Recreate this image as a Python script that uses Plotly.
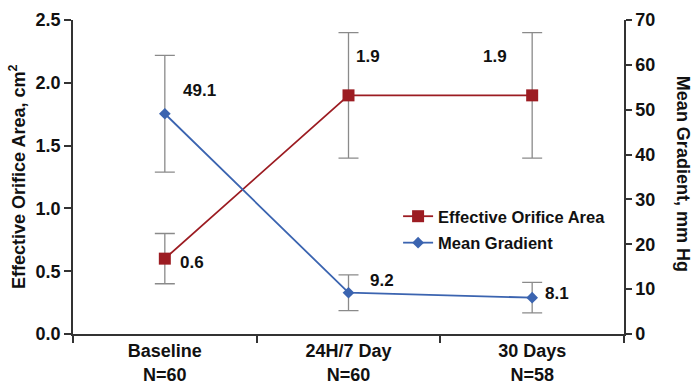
import plotly.graph_objects as go

categories = ["Baseline<br>N=60", "24H/7 Day<br>N=60", "30 Days<br>N=58"]
eoa = [0.6, 1.9, 1.9]
eoa_err = [0.2, 0.5, 0.5]
gradient = [49.1, 9.2, 8.1]
gradient_err = [13.0, 4.0, 3.4]
eoa_labels = ["0.6", "1.9", "1.9"]
gradient_labels = ["49.1", "9.2", "8.1"]
eoa_ticks = [0, 0.5, 1.0, 1.5, 2.0, 2.5]
grad_ticks = [0, 10, 20, 30, 40, 50, 60, 70]

RED = "#9C1C22"
BLUE = "#3B64B0"
GRAY = "#8A8A8A"
AXIS = "#333333"
FONT = "Liberation Sans, Arial, sans-serif"

def bold(s):
    return "<b>" + s.replace("<br>", "</b><br><b>") + "</b>"

fig = go.Figure()
fig.add_trace(go.Scatter(
    x=categories, y=eoa, name=bold("Effective Orifice Area"),
    mode="lines+markers", legendgroup="a",
    line=dict(color=RED, width=1.8),
    marker=dict(symbol="square", size=12, color=RED),
    error_y=dict(type="data", array=eoa_err, color=GRAY, thickness=1.3, width=10),
    yaxis="y",
))
fig.add_trace(go.Scatter(
    x=categories, y=gradient, name=bold("Mean Gradient"),
    mode="lines+markers", legendgroup="b",
    line=dict(color=BLUE, width=1.8),
    marker=dict(symbol="diamond", size=9, color=BLUE),
    error_y=dict(type="data", array=gradient_err, color=GRAY, thickness=1.3, width=10),
    yaxis="y2",
))

eoa_shifts = [(27, -4), (19, 39), (-37, 39)]
grad_shifts = [(35, 23), (33, 12), (25, 4)]
for c, v, t, (dx, dy) in zip(categories, eoa, eoa_labels, eoa_shifts):
    fig.add_annotation(x=c, y=v, xref="x", yref="y", text=bold(t), showarrow=False,
                       xshift=dx, yshift=dy, font=dict(size=17, color="#111", family=FONT))
for c, v, t, (dx, dy) in zip(categories, gradient, gradient_labels, grad_shifts):
    fig.add_annotation(x=c, y=v, xref="x", yref="y2", text=bold(t), showarrow=False,
                       xshift=dx, yshift=dy, font=dict(size=17, color="#111", family=FONT))

fig.add_annotation(x=1, y=0.51, xref="paper", yref="paper", xanchor="center", yanchor="middle",
                   xshift=59, text=bold("Mean Gradient, mm Hg"), textangle=90,
                   showarrow=False, font=dict(size=18, color="#111", family=FONT))
fig.add_annotation(x=0, y=0.5, xref="paper", yref="paper", xanchor="center", yanchor="middle",
                   xshift=-56, text=bold("Effective Orifice Area, cm") + "<b><sup>2</sup></b>", textangle=-90,
                   showarrow=False, font=dict(size=18, color="#111", family=FONT))

fig.update_layout(
    width=699, height=387,
    margin=dict(l=73, r=75, t=20, b=53),
    paper_bgcolor="white", plot_bgcolor="white",
    font=dict(family=FONT, color="#111", size=16),
    showlegend=True,
    legend=dict(x=0.59, y=0.43, xanchor="left", yanchor="top",
                bgcolor="rgba(0,0,0,0)", font=dict(size=16.5, family=FONT),
                itemwidth=30, tracegroupgap=2),
    xaxis=dict(
        type="category", range=[-0.5, 2.5], automargin=False,
        showline=True, linecolor=AXIS, linewidth=1.5,
        ticks="outside", tickson="boundaries", ticklen=7, tickcolor=AXIS, tickwidth=1.5,
        showgrid=False, zeroline=False,
        tickvals=categories, ticktext=[bold(c) for c in categories],
        tickfont=dict(size=18, family=FONT),
    ),
    yaxis=dict(
        range=[0, 2.5], automargin=False,
        tickvals=eoa_ticks, ticktext=[bold("%.1f" % v) for v in eoa_ticks],
        showline=True, linecolor=AXIS, linewidth=1.5,
        ticks="outside", ticklen=7, tickcolor=AXIS, tickwidth=1.5,
        showgrid=False, zeroline=False,
        tickfont=dict(size=18, family=FONT),
    ),
    yaxis2=dict(
        range=[0, 70], overlaying="y", side="right", automargin=False,
        tickvals=grad_ticks, ticktext=[bold("%d" % v) for v in grad_ticks],
        showline=True, linecolor=AXIS, linewidth=1.5,
        ticks="outside", ticklen=6, tickcolor=AXIS, tickwidth=1.5,
        showgrid=False, zeroline=False,
        tickfont=dict(size=18, family=FONT),
    ),
)

fig.write_html("out.html", config={"displayModeBar": False},
               post_script="document.body.style.margin='0';document.body.style.padding='0';")
